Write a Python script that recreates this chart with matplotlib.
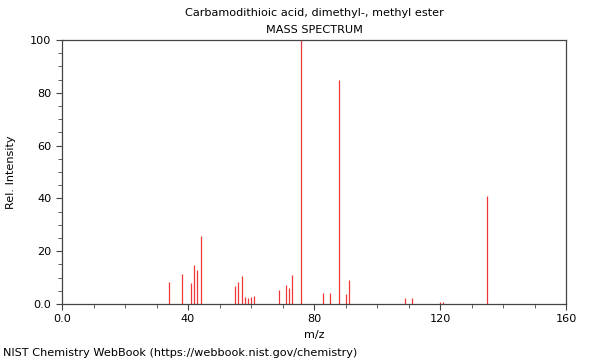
import matplotlib
matplotlib.use("Agg")
import matplotlib.pyplot as plt
from matplotlib.ticker import MultipleLocator

plt.rcParams['font.family'] = ['DejaVu Sans']
plt.rcParams['font.size'] = 8.15

# peaks
mz = [34, 38, 41, 42, 43, 44, 55, 56, 57, 58, 59, 60, 61,
      69, 71, 72, 73, 76, 83, 85, 88, 90, 91, 109, 111, 120, 121, 135]
intensity = [8.3, 11.4, 8.1, 14.8, 12.9, 25.8, 6.9, 8.3, 10.7, 2.5, 2.3, 2.6, 3.0,
             5.3, 7.3, 6.1, 10.9, 100, 4.2, 4.2, 84.8, 3.8, 9.0, 2.3, 2.3, 0.8, 0.8, 40.9]

title = "Carbamodithioic acid, dimethyl-, methyl ester"
subtitle = "MASS SPECTRUM"
footer = "NIST Chemistry WebBook (https://webbook.nist.gov/chemistry)"

fig = plt.figure(figsize=(6, 3.6), dpi=100)
ax = fig.add_axes([62 / 600, 1 - 304 / 360, 504 / 600, 264 / 360])

ax.vlines(mz, 0, intensity, colors='#ee3838', linewidth=0.9)

ax.set_xlim(0, 160)
ax.set_ylim(0, 100)
ax.xaxis.set_major_locator(MultipleLocator(40))
ax.xaxis.set_minor_locator(MultipleLocator(10))
ax.yaxis.set_major_locator(MultipleLocator(20))
ax.yaxis.set_minor_locator(MultipleLocator(5))
ax.set_xticklabels(['0.0' if t == 0 else f'{int(t)}' for t in ax.get_xticks()])
ax.set_yticklabels(['0.0' if t == 0 else f'{int(t)}' for t in ax.get_yticks()])
ax.tick_params(which='both', direction='out', colors='#444444', labelcolor='black')
ax.tick_params(which='major', length=4)
ax.tick_params(which='minor', length=3)
for s in ax.spines.values():
    s.set_color('#444444')
    s.set_linewidth(0.9)

ax.set_xlabel('m/z', labelpad=4)
ax.set_ylabel('Rel. Intensity', labelpad=10)

fig.text(314 / 600, 1 - 13 / 360, title, ha='center', va='center')
fig.text(314 / 600, 1 - 30 / 360, subtitle, ha='center', va='center')
fig.text(3 / 600, 1 - 353 / 360, footer, ha='left', va='center')

fig.savefig('out.png', dpi=100)
